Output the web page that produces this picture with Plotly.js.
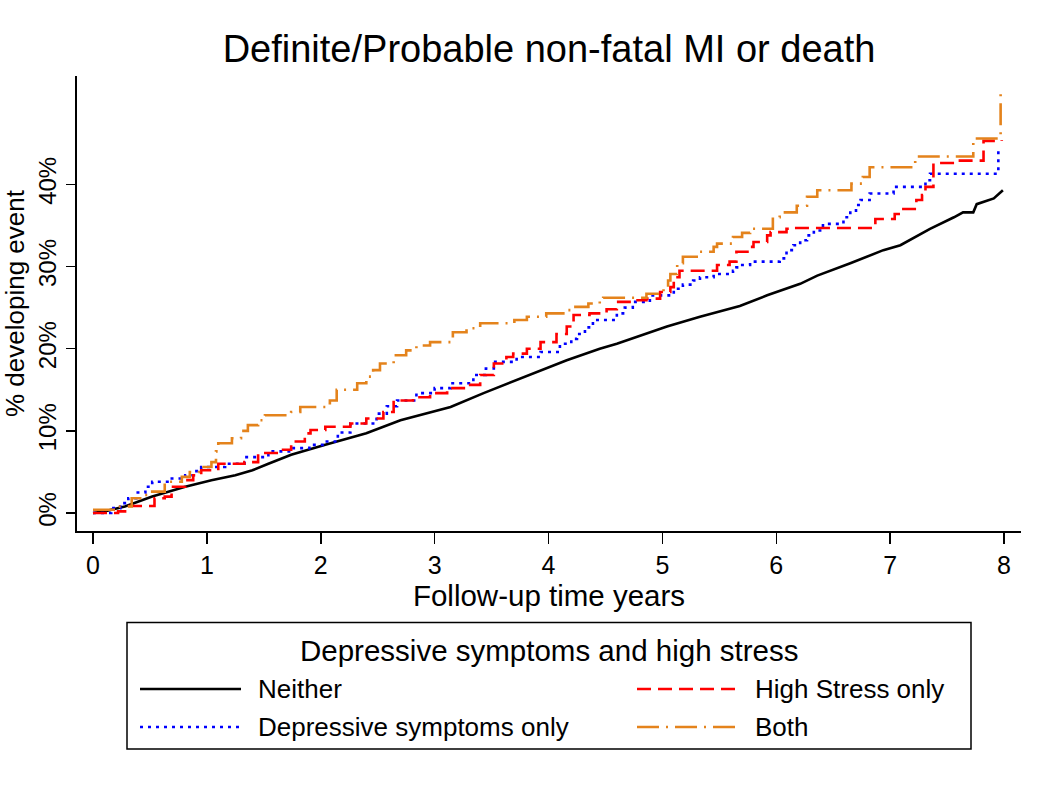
<!DOCTYPE html>
<html>
<head>
<meta charset="utf-8">
<script src="https://cdn.plot.ly/plotly-3.0.1.min.js"></script>
<style>html,body{margin:0;padding:0;background:#fff;}#chart{width:1050px;height:788px;}</style>
</head>
<body>
<div id="chart"></div>
<script>
// ---- Data (cumulative % developing event by follow-up year) ----
const seriesNames = ["Neither", "High Stress only", "Depressive symptoms only", "Both"];

const neitherX = [0, 0.1, 0.28, 0.52, 0.81, 1.04, 1.25, 1.40, 1.54, 1.74, 2.04, 2.40, 2.70, 3.14, 3.43, 3.72, 3.93, 4.16, 4.45, 4.60, 5.04, 5.33, 5.68, 5.92, 6.21, 6.36, 6.65, 6.94, 7.09, 7.35, 7.56, 7.64, 7.73, 7.76, 7.91, 7.99];
const neitherY = [0, 0.2, 0.8, 2.0, 3.2, 4.0, 4.6, 5.2, 6.0, 7.1, 8.3, 9.7, 11.3, 12.9, 14.6, 16.2, 17.4, 18.6, 20.0, 20.6, 22.7, 23.9, 25.2, 26.5, 27.9, 28.9, 30.4, 32.0, 32.6, 34.6, 36.0, 36.6, 36.6, 37.6, 38.3, 39.3];

const depressX = [0, 0.16, 0.24, 0.31, 0.38, 0.46, 0.52, 0.68, 0.81, 0.88, 0.95, 1.16, 1.33, 1.54, 1.74, 1.90, 2.04, 2.15, 2.26, 2.49, 2.58, 2.67, 2.84, 3.00, 3.14, 3.34, 3.45, 3.52, 3.72, 3.93, 4.10, 4.20, 4.25, 4.32, 4.39, 4.60, 4.67, 4.74, 4.89, 5.10, 5.18, 5.27, 5.33, 5.45, 5.62, 5.65, 5.68, 5.77, 6.03, 6.09, 6.15, 6.21, 6.27, 6.33, 6.41, 6.59, 6.65, 6.70, 6.74, 6.82, 7.03, 7.31, 7.35, 7.95];
const depressY = [0, 0.6, 1.2, 1.8, 2.5, 3.2, 3.8, 4.2, 4.6, 5.1, 5.6, 6.0, 6.8, 7.5, 7.9, 8.3, 8.7, 9.8, 10.9, 12.1, 13.0, 13.7, 14.6, 15.2, 15.8, 16.8, 17.6, 18.4, 19.0, 19.6, 20.6, 21.2, 21.8, 22.6, 23.5, 24.3, 25.0, 25.7, 26.5, 27.3, 27.8, 28.3, 28.7, 29.1, 29.5, 29.9, 30.2, 30.6, 31.0, 32.0, 32.6, 33.2, 33.8, 34.4, 35.2, 36.0, 36.8, 37.5, 38.1, 38.9, 39.7, 40.5, 41.3, 44.1];

const stressX = [0, 0.22, 0.30, 0.54, 0.63, 0.69, 0.81, 0.88, 0.95, 1.10, 1.33, 1.45, 1.63, 1.74, 1.86, 1.91, 2.04, 2.26, 2.40, 2.55, 2.64, 2.81, 2.96, 3.11, 3.28, 3.40, 3.52, 3.63, 3.69, 3.81, 3.93, 4.07, 4.16, 4.22, 4.36, 4.51, 4.60, 4.74, 4.86, 4.98, 5.07, 5.10, 5.15, 5.48, 5.59, 5.65, 5.77, 5.80, 5.92, 5.95, 6.09, 6.12, 6.87, 7.04, 7.09, 7.23, 7.28, 7.31, 7.38, 7.60, 7.82, 7.98];
const stressY = [0, 0.2, 0.85, 1.8, 2.0, 3.2, 4.0, 4.6, 5.2, 6.0, 6.2, 7.3, 7.7, 8.7, 9.7, 10.1, 10.5, 10.9, 11.5, 12.3, 13.7, 14.1, 14.6, 15.2, 15.6, 16.8, 18.2, 19.0, 19.4, 20.0, 20.8, 21.8, 22.7, 24.1, 24.3, 24.8, 25.7, 25.9, 26.1, 26.9, 27.5, 28.7, 29.5, 30.2, 30.6, 31.8, 32.4, 33.0, 33.8, 34.2, 34.6, 34.7, 35.8, 36.4, 37.0, 38.1, 38.7, 39.7, 42.6, 42.9, 45.3, 45.4];

const bothX = [0, 0.22, 0.34, 0.45, 0.52, 0.63, 0.78, 0.85, 0.93, 1.04, 1.08, 1.10, 1.22, 1.30, 1.36, 1.45, 1.51, 1.74, 1.82, 2.08, 2.14, 2.32, 2.40, 2.46, 2.52, 2.64, 2.75, 2.84, 2.96, 3.16, 3.28, 3.40, 3.70, 3.81, 3.98, 4.13, 4.22, 4.35, 4.45, 4.48, 4.86, 5.01, 5.05, 5.07, 5.13, 5.18, 5.33, 5.45, 5.48, 5.62, 5.70, 5.77, 5.97, 6.03, 6.18, 6.27, 6.36, 6.66, 6.76, 6.82, 7.22, 7.73, 7.97];
const bothY = [0.4, 0.8, 1.8, 2.2, 2.6, 3.8, 4.4, 5.0, 5.6, 6.2, 7.5, 8.5, 9.1, 10.0, 10.7, 11.3, 11.9, 12.3, 12.9, 13.7, 15.0, 15.8, 16.6, 17.4, 18.2, 19.2, 19.8, 20.4, 20.8, 22.0, 22.5, 23.1, 23.5, 23.9, 24.3, 24.7, 25.1, 25.5, 25.9, 26.2, 26.7, 27.5, 28.3, 29.1, 30.4, 31.2, 31.8, 32.4, 32.8, 33.6, 34.1, 34.6, 36.0, 36.6, 37.4, 38.5, 39.3, 40.1, 40.9, 42.1, 43.4, 45.6, 51.0];

const xTickVals = [0, 1, 2, 3, 4, 5, 6, 7, 8];
const yTickVals = [0, 10, 20, 30, 40];
const yTickText = ["0%", "10%", "20%", "30%", "40%"];

// ---- Styles ----
const FONT = "Liberation Sans, Arial, sans-serif";
const styles = {
  "Neither": {color: "#000000", dash: "solid", shape: "linear"},
  "High Stress only": {color: "#FF0000", dash: "14px,7px", shape: "hv"},
  "Depressive symptoms only": {color: "#0000FF", dash: "3px,5px", shape: "hv"},
  "Both": {color: "#E4831C", dash: "22px,7px,2px,7px", shape: "hv"}
};
const dataMap = {
  "Neither": [neitherX, neitherY],
  "High Stress only": [stressX, stressY],
  "Depressive symptoms only": [depressX, depressY],
  "Both": [bothX, bothY]
};

const drawOrder = ["Neither", "Depressive symptoms only", "High Stress only", "Both"];
const traces = drawOrder.map(n => ({
  type: "scatter", mode: "lines", name: n,
  x: dataMap[n][0], y: dataMap[n][1],
  line: {color: styles[n].color, dash: styles[n].dash, width: 2.6, shape: styles[n].shape},
  showlegend: false, hoverinfo: "skip"
}));

// ---- Manual legend (box, samples, labels) in paper coords ----
const L = 77, T = 76, W = 944, H = 455;
const px = v => (v - L) / W;
const py = v => (T + H - v) / H;

const shapes = [
  {type: "rect", xref: "paper", yref: "paper", x0: px(127), x1: px(971), y0: py(749), y1: py(622.5),
   line: {color: "#000", width: 1.5}, fillcolor: "rgba(0,0,0,0)"}
];
const annotations = [
  {xref: "paper", yref: "paper", x: px(549), y: py(650), text: "Depressive symptoms and high stress",
   showarrow: false, xanchor: "center", yanchor: "middle", font: {family: FONT, size: 29.5, color: "#000"}}
];
const legendSlots = [
  {name: "Neither", x0: 140, x1: 241, tx: 256, y: 689},
  {name: "High Stress only", x0: 637, x1: 738, tx: 753, y: 689},
  {name: "Depressive symptoms only", x0: 140, x1: 241, tx: 256, y: 727},
  {name: "Both", x0: 637, x1: 738, tx: 753, y: 727}
];
legendSlots.forEach(s => {
  shapes.push({type: "line", xref: "paper", yref: "paper", x0: px(s.x0), x1: px(s.x1), y0: py(s.y), y1: py(s.y),
    line: {color: styles[s.name].color, width: 2.6, dash: styles[s.name].dash}});
  annotations.push({xref: "paper", yref: "paper", x: px(s.tx), y: py(s.y), text: s.name, showarrow: false,
    xanchor: "left", yanchor: "middle", font: {family: FONT, size: 26, color: "#000"}});
});

const layout = {
  width: 1050, height: 788,
  margin: {l: L, r: 1050 - L - W, t: T, b: 788 - T - H, pad: 0},
  paper_bgcolor: "#fff", plot_bgcolor: "#fff",
  font: {family: FONT, color: "#000"},
  title: {text: "Definite/Probable non-fatal MI or death", font: {family: FONT, size: 38, color: "#000"},
          xref: "paper", x: 0.5, xanchor: "center", y: 1 - 49 / 788, yanchor: "middle"},
  xaxis: {
    range: [-0.1405, 8.149], tickvals: xTickVals, ticks: "outside", ticklen: 11, tickwidth: 1.5, tickcolor: "#000",
    showgrid: false, zeroline: false, showline: true, linecolor: "#000", linewidth: 2,
    tickfont: {family: FONT, size: 25, color: "#000"},
    title: {text: "Follow-up time years", font: {family: FONT, size: 29.5, color: "#000"}, standoff: 0}
  },
  yaxis: {
    range: [-2.19, 53.2], tickvals: yTickVals, ticktext: yTickText, ticks: "outside", ticklen: 9, tickwidth: 1.5, tickcolor: "#000",
    tickangle: -90, showgrid: false, zeroline: false, showline: true, linecolor: "#000", linewidth: 2,
    tickfont: {family: FONT, size: 24, color: "#000"},
    title: {text: "% developing event", font: {family: FONT, size: 26, color: "#000"}, standoff: 4}
  },
  shapes: shapes,
  annotations: annotations,
  showlegend: false
};

Plotly.newPlot("chart", traces, layout, {displayModeBar: false, staticPlot: true});
</script>
</body>
</html>
